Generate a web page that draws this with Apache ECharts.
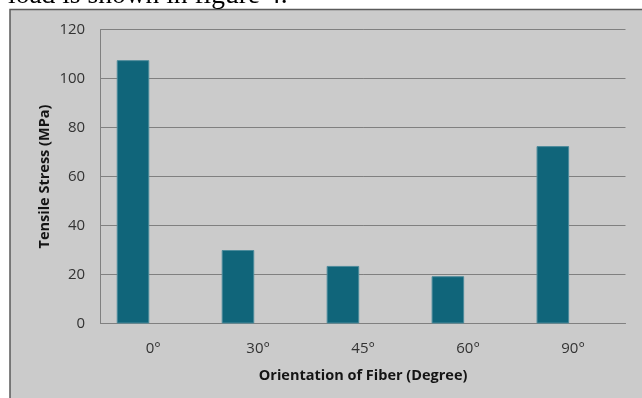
<!DOCTYPE html>
<html>
<head>
<meta charset="utf-8">
<script src="https://cdn.jsdelivr.net/npm/echarts@6/dist/echarts.min.js"></script>
<style>
  html, body { margin: 0; padding: 0; background: #ffffff; }
  #chart { width: 642px; height: 398px; }
</style>
</head>
<body>
<div id="chart"></div>
<script>
// Fiber orientation categories and measured tensile stress (MPa)
const categories = ['0°', '30°', '45°', '60°', '90°'];
const tensileStress = [107.5, 30, 23.5, 19.3, 72.4];
// Empty companion series: keeps the measured bars in the left slot of each category
const secondSlot = [null, null, null, null, null];
const yMin = 0, yMax = 120, yStep = 20;

const labelFont = '"Open Sans", sans-serif';

const chart = echarts.init(document.getElementById('chart'), null, { renderer: 'canvas' });
chart.setOption({
  backgroundColor: '#ffffff',
  animation: false,
  graphic: [
    {
      type: 'rect',
      z: -10,
      shape: { x: 10, y: 9.5, width: 640, height: 400 },
      style: { fill: '#cbcbcb', stroke: '#5a5a5a', lineWidth: 1.5 }
    },
    {
      type: 'text',
      z: -5,
      style: {
        x: 8, y: -4.5,
        text: 'load is shown in figure 4.',
        font: '27.5px "Liberation Serif", "Times New Roman", serif',
        fill: '#000000',
        verticalAlign: 'middle'
      }
    }
  ],
  grid: { left: 100.7, right: 16.5, top: 29.5, bottom: 74.5 },
  xAxis: {
    type: 'category',
    data: categories,
    name: 'Orientation of Fiber (Degree)',
    nameLocation: 'middle',
    nameGap: 45,
    nameMoveOverlap: false,
    nameTextStyle: { fontFamily: labelFont, fontWeight: 'bold', fontSize: 14.5, color: '#141414' },
    axisLine: { show: true, lineStyle: { color: '#808080', width: 1 } },
    axisTick: { show: false },
    axisLabel: { fontFamily: labelFont, fontSize: 15, color: '#333333', margin: 18 },
    splitLine: { show: false }
  },
  yAxis: {
    type: 'value',
    min: yMin, max: yMax, interval: yStep,
    name: 'Tensile Stress (MPa)',
    nameLocation: 'middle',
    nameGap: 48,
    nameMoveOverlap: false,
    nameTextStyle: { fontFamily: labelFont, fontWeight: 'bold', fontSize: 14.5, color: '#141414' },
    axisLine: { show: true, lineStyle: { color: '#808080', width: 1 } },
    axisTick: { show: false },
    axisLabel: { fontFamily: labelFont, fontSize: 15, color: '#333333', margin: 15.5 },
    splitLine: { show: true, lineStyle: { color: '#808080', width: 1 } }
  },
  series: [
    {
      type: 'bar',
      data: tensileStress,
      barWidth: '31%',
      barGap: '24%',
      itemStyle: { color: '#10657a', borderColor: '#4d8b9b', borderWidth: 1 }
    },
    {
      type: 'bar',
      data: secondSlot,
      barWidth: '31%',
      barGap: '24%'
    }
  ]
});
</script>
</body>
</html>
